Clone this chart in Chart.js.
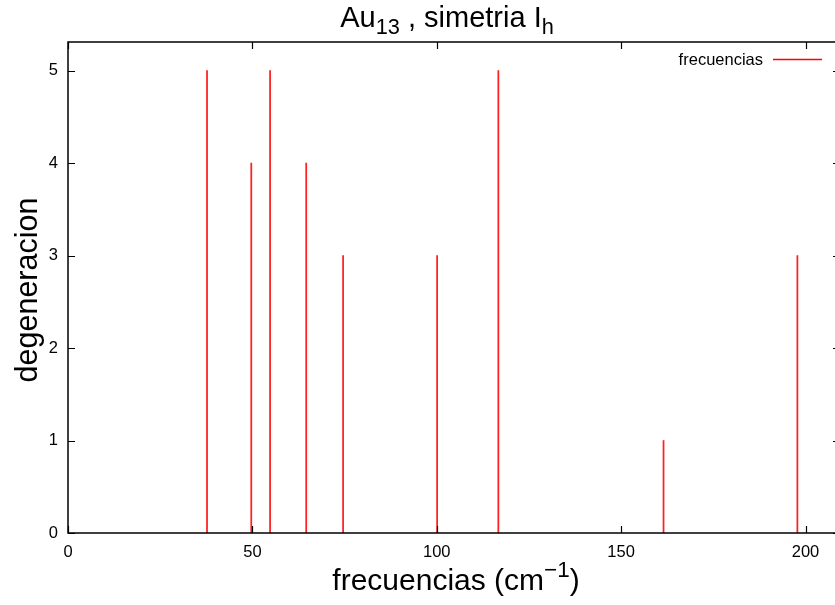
<!DOCTYPE html>
<html>
<head>
<meta charset="utf-8">
<script src="https://cdn.jsdelivr.net/npm/chart.js@4"></script>
<style>
  body { margin: 0; background: #fff; }
  #wrap { width: 835px; height: 605px; }
</style>
</head>
<body>
<div id="wrap"><canvas id="myChart"></canvas></div>
<script>
const frecuencias = [37.7, 49.7, 54.8, 64.6, 74.6, 100.1, 116.7, 161.5, 197.8];
const degeneracion = [5, 4, 5, 4, 3, 3, 5, 1, 3];
const xTicks = [0, 50, 100, 150, 200];
const yTicks = [0, 1, 2, 3, 4, 5];

const FONT = "'Liberation Sans', Arial, sans-serif";

// text with sub/superscript pieces: [text, shift] where shift -1 = sub, 1 = sup
const drawRich = (c, parts, x, y, size, align) => {
  let w = 0;
  parts.forEach(p => {
    c.font = (p[1] ? size * 0.75 : size) + "px " + FONT;
    w += c.measureText(p[0]).width;
  });
  let cx = align === "center" ? x - w / 2 : x;
  c.textAlign = "left";
  c.textBaseline = "alphabetic";
  parts.forEach(p => {
    const s = p[1] ? size * 0.75 : size;
    c.font = s + "px " + FONT;
    const dy = p[1] === -1 ? size * 0.25 : p[1] === 1 ? -size * 0.42 : 0;
    c.fillText(p[0], cx, y + dy);
    cx += c.measureText(p[0]).width;
  });
};

const gnuplotFrame = {
  id: "gnuplotFrame",
  afterDraw(chart) {
    const c = chart.ctx;
    const a = chart.chartArea;
    const xs = chart.scales.x, ys = chart.scales.y;
    c.save();
    c.strokeStyle = "#000";
    c.lineWidth = 1.5;
    // frame: top, left, bottom (right edge falls off the picture)
    c.beginPath();
    c.moveTo(a.right, a.top); c.lineTo(a.left, a.top);
    c.lineTo(a.left, a.bottom); c.lineTo(a.right, a.bottom);
    c.stroke();
    // inward ticks on all four sides
    const t = 7;
    c.lineWidth = 1.2;
    c.beginPath();
    xTicks.forEach(v => {
      const px = Math.round(xs.getPixelForValue(v)) + 0.5;
      c.moveTo(px, a.bottom); c.lineTo(px, a.bottom - t);
      c.moveTo(px, a.top); c.lineTo(px, a.top + t);
    });
    yTicks.forEach(v => {
      const py = Math.round(ys.getPixelForValue(v)) + 0.5;
      c.moveTo(a.left, py); c.lineTo(a.left + t, py);
      c.moveTo(a.right, py); c.lineTo(a.right - 2, py);
    });
    c.stroke();

    // tick labels
    c.fillStyle = "#000";
    c.font = "16.5px " + FONT;
    c.textAlign = "center";
    c.textBaseline = "middle";
    xTicks.forEach(v => c.fillText(String(v), xs.getPixelForValue(v), a.bottom + 19));
    c.textAlign = "right";
    yTicks.forEach(v => c.fillText(String(v), a.left - 10, ys.getPixelForValue(v)));

    // title and axis titles
    drawRich(c, [["Au", 0], ["13", -1], [" , simetria I", 0], ["h", -1]], 447, 26.5, 29, "center");
    drawRich(c, [["frecuencias (cm", 0], ["\u22121", 1], [")", 0]], 456, 590, 30, "center");
    c.save();
    c.translate(37, 290);
    c.rotate(-Math.PI / 2);
    drawRich(c, [["degeneracion", 0]], 0, 0, 30.5, "center");
    c.restore();

    // key
    const ds = chart.data.datasets[0];
    c.font = "16.5px " + FONT;
    c.textAlign = "right";
    c.textBaseline = "middle";
    c.fillText(ds.label, 763, 60);
    c.strokeStyle = "#ff0000";
    c.lineWidth = 1.5;
    c.beginPath();
    c.moveTo(773, 59.5); c.lineTo(822, 59.5);
    c.stroke();
    c.restore();
  }
};

new Chart(document.getElementById("myChart"), {
  type: "bar",
  data: {
    datasets: [
      {
        label: "frecuencias",
        data: frecuencias.map((f, i) => ({ x: f, y: degeneracion[i] })),
        backgroundColor: "#ff2020",
        borderWidth: 0,
        barThickness: 1.1,
      },
    ],
  },
  options: {
    responsive: true,
    maintainAspectRatio: false,
    animation: false,
    devicePixelRatio: 1,
    layout: { padding: { top: 42, right: 0, left: 0, bottom: 0 } },
    plugins: { legend: { display: false }, tooltip: { enabled: false } },
    scales: {
      x: {
        type: "linear",
        min: 0,
        max: 208,
        offset: false,
        grid: { display: false, offset: false },
        border: { display: false },
        ticks: { display: false },
        afterFit: (s) => { s.height = 605 - 533; },
      },
      y: {
        min: 0,
        max: 5.31,
        grid: { display: false },
        border: { display: false },
        ticks: { display: false, stepSize: 1 },
        afterFit: (s) => { s.width = 68; },
      },
    },
  },
  plugins: [gnuplotFrame],
});
</script>
</body>
</html>
